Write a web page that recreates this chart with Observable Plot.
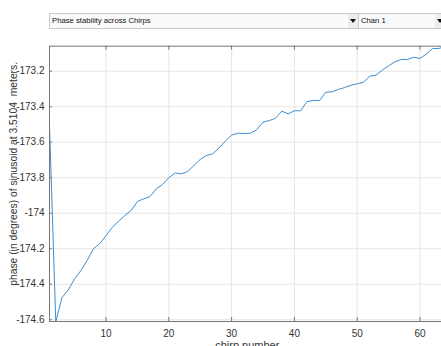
<!DOCTYPE html>
<html>
<head>
<meta charset="utf-8">
<script src="https://cdn.jsdelivr.net/npm/d3@7"></script>
<script src="https://cdn.jsdelivr.net/npm/@observablehq/plot@0.6"></script>
<style>
  html, body { margin: 0; padding: 0; overflow: hidden; background: #fff; }
  body { width: 441px; height: 346px; position: relative; font-family: "Liberation Sans", Arial, sans-serif; }
  #chart { position: absolute; left: 0; top: 0; z-index: 0; }
  .dd { position: absolute; z-index: 2; top: 12.5px; height: 14px; border: 1px solid #c9c9c9; background: #fafafa; box-sizing: content-box; }
  .dd span { position: absolute; left: 2px; top: 2.5px; font-size: 7.7px; line-height: 9px; color: #111; white-space: pre; }
  .arrow { position: absolute; top: 5.5px; width: 0; height: 0; border-left: 3px solid transparent; border-right: 3px solid transparent; border-top: 4px solid #111; }
  .btn { position: absolute; top: 0; width: 10px; height: 14px; background: #ececec; }
</style>
</head>
<body>
<div id="chart"></div>
<div class="dd" style="left:49px;width:308px;"><span>Phase stability across Chirps</span><div class="btn" style="left:298px;"></div><div class="arrow" style="left:300px;"></div></div>
<div class="dd" style="left:358px;width:90px;"><span>Chan 1</span><div class="btn" style="left:76px;"></div><div class="arrow" style="left:78px;"></div></div>
<script>
const phase = [
  -173.506, -174.61, -174.475, -174.432, -174.37, -174.323, -174.266, -174.2,
  -174.172, -174.126, -174.079, -174.045, -174.013, -173.985, -173.934, -173.919,
  -173.906, -173.863, -173.838, -173.8, -173.773, -173.778, -173.765, -173.731,
  -173.697, -173.675, -173.665, -173.632, -173.594, -173.56, -173.549, -173.551,
  -173.549, -173.53, -173.487, -173.478, -173.465, -173.425, -173.44, -173.423,
  -173.423, -173.371, -173.365, -173.365, -173.318, -173.316, -173.303, -173.292,
  -173.279, -173.271, -173.262, -173.228, -173.222, -173.194, -173.17, -173.147,
  -173.134, -173.134, -173.121, -173.128, -173.104, -173.072, -173.072, -173.059
];
const chirps = phase.map((_, i) => i + 1);
const xTicks = [10, 20, 30, 40, 50, 60];
const yTicks = [-174.6, -174.4, -174.2, -174, -173.8, -173.6, -173.4, -173.2];
const xLabel = "chirp number";
const yLabel = "phase (in degrees) of sinusoid at 3.5104 \u00a0meters.";

const data = chirps.map((c, i) => ({chirp: c, phase: phase[i]}));

const W = 441, H = 346;
const mL = 49, mR = -3.6, mT = 45.7, mB = 25;
const frameW = W - mL - mR, frameH = H - mT - mB;
const tick = 4;
const axisColor = "#777";
const gridColor = "#e6e6e6";
const textColor = "#333";

const chart = Plot.plot({
  width: W,
  height: H,
  marginLeft: mL,
  marginRight: mR,
  marginTop: mT,
  marginBottom: mB,
  style: {background: "white", fontFamily: "'Liberation Sans', Arial, sans-serif", fontSize: "10px", color: textColor, overflow: "hidden"},
  x: {domain: [chirps[0], chirps[chirps.length - 1]]},
  y: {domain: d3.extent(phase)},
  marks: [
    Plot.ruleX(xTicks, {x: d => d, stroke: gridColor, strokeWidth: 1}),
    Plot.ruleY(yTicks, {y: d => d, stroke: gridColor, strokeWidth: 1}),
    Plot.line(data, {x: "chirp", y: "phase", stroke: "#3b8fd4", strokeWidth: 1}),
    Plot.frame({stroke: axisColor, strokeWidth: 1}),
    Plot.tickX(xTicks, {x: d => d, stroke: axisColor, insetTop: frameH - tick}),
    Plot.tickX(xTicks, {x: d => d, stroke: axisColor, insetBottom: frameH - tick}),
    Plot.tickY(yTicks, {y: d => d, stroke: axisColor, insetRight: frameW - 3}),
    Plot.axisX(xTicks, {tickSize: 0, tickPadding: 8, label: null, fill: textColor, fontSize: 10, tickFormat: d => String(d)}),
    Plot.axisY(yTicks, {tickSize: 0, tickPadding: 5, label: null, fill: textColor, fontSize: 10, tickFormat: d => String(d)}),
    Plot.text([yLabel], {text: d => d, frameAnchor: "left", textAnchor: "middle", lineAnchor: "middle", rotate: -90, dx: -36, dy: -10, fontSize: 10.3, fill: textColor}),
    Plot.text([xLabel], {text: d => d, frameAnchor: "bottom", dy: 20, lineAnchor: "top", fontSize: 11, fill: textColor})
  ]
});
document.getElementById("chart").appendChild(chart);
</script>
</body>
</html>
